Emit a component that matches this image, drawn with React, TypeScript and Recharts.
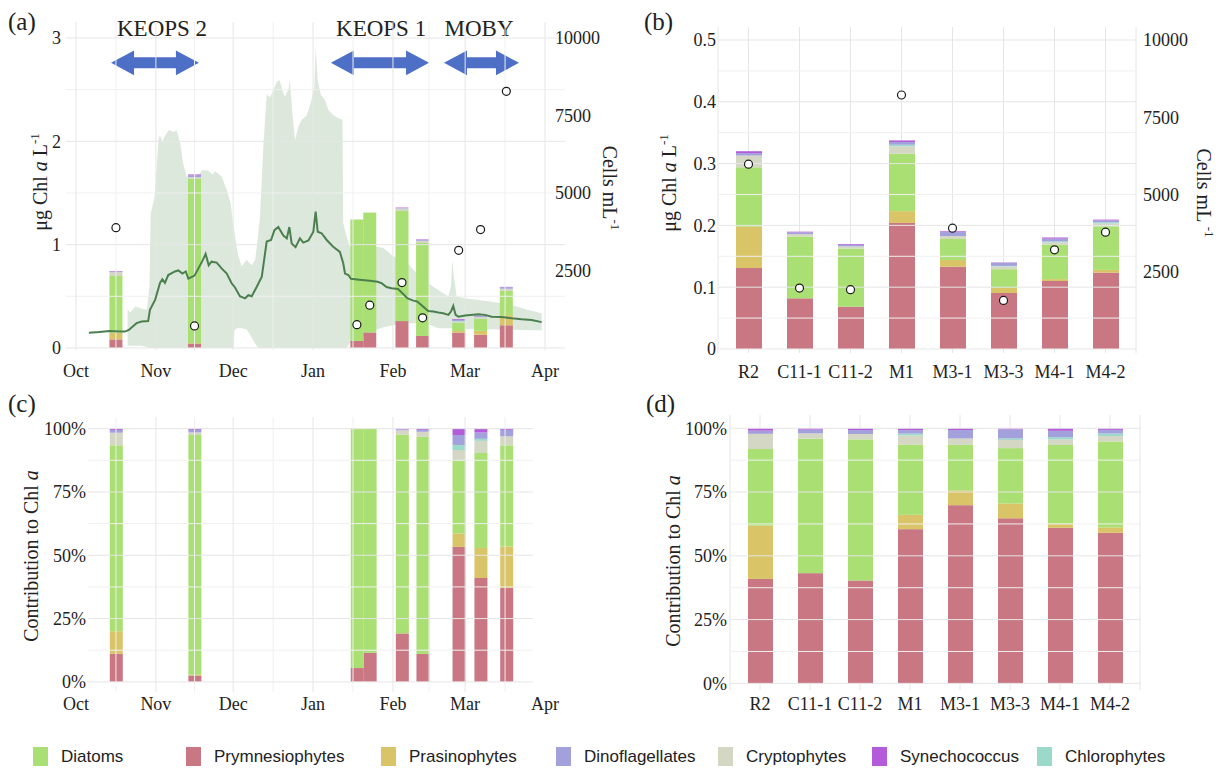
import React from "react";
import {
  ComposedChart,
  Bar,
  Area,
  Line,
  Scatter,
  XAxis,
  YAxis,
  ReferenceLine,
  ReferenceArea,
  CartesianGrid,
} from "recharts";

const SERIF = '"Liberation Serif", "Times New Roman", serif';
const SANS = '"Liberation Sans", Arial, sans-serif';
const INK = "#222";
const GRID = "#e6e6e6";
const GRID_MINOR = "#f0f0f0";

// pigment groups, bottom of the stack first
const GROUPS = [
  { key: "prym", name: "Prymnesiophytes", color: "#c97782" },
  { key: "pras", name: "Prasinophytes", color: "#d9c468" },
  { key: "diat", name: "Diatoms", color: "#a9df73" },
  { key: "crypt", name: "Cryptophytes", color: "#d4d7c3" },
  { key: "chlor", name: "Chlorophytes", color: "#9bd9cb" },
  { key: "dino", name: "Dinoflagellates", color: "#a3a1dc" },
  { key: "syn", name: "Synechococcus", color: "#b35bd9" },
];
const LEGEND_ORDER = ["diat", "prym", "pras", "dino", "crypt", "syn", "chlor"];

// time axis, days since 1 Oct
const monthDays = [0, 31, 61, 92, 123, 151, 182];
const monthNames = ["Oct", "Nov", "Dec", "Jan", "Feb", "Mar", "Apr"];
const minorDays = [15.5, 46, 76.5, 107.5, 137, 166.5];

// seasonal samples (panels a, c)
const sampleDays = [15.5, 46, 109, 114, 126.5, 134.5, 148.5, 157, 167];
const prymA = [0.083, 0.042, 0.068, 0.15, 0.26, 0.116, 0.149, 0.128, 0.219];
const prasA = [0.066, 0.005, 0, 0, 0, 0, 0.015, 0.037, 0.097];
const diatA = [0.547, 1.59, 1.175, 1.16, 1.066, 0.9, 0.081, 0.117, 0.236];
const cryptA = [0.037, 0.017, 0.002, 0, 0.024, 0.021, 0.011, 0.015, 0.021];
const chlorA = [0, 0, 0, 0, 0, 0, 0.0056, 0.0025, 0];
const dinoA = [0.008, 0.017, 0, 0, 0.005, 0.008, 0.011, 0.0078, 0.015];
const synA = [0.004, 0.008, 0, 0, 0.004, 0.005, 0.007, 0.0047, 0.003];
const cellsA = [3880, 710, 750, 1380, 2110, 970, 3150, 3820, 8280];

// satellite chl a, mean line
const satDays = [5, 9, 13, 17, 19, 20.5, 23.5, 25.5, 28, 28.7, 30.7, 32.6, 33.5, 34.5, 35.8, 38.4, 39.7, 41.3, 42.6, 43.6, 46, 49, 50.3, 51.5, 52.6, 54.6, 56.5, 58.5, 60.4, 61.7, 63.6, 65.6, 66.9, 68.2, 70.1, 72.1, 74, 75.7, 77, 78.5, 80.4, 81.8, 82.8, 83.7, 85.2, 86.9, 88.2, 90.2, 92.1, 93, 93.8, 95.3, 97.3, 99.8, 102.4, 103.7, 104.4, 105.7, 106.7, 110, 114, 117, 118.6, 120.5, 122.5, 125, 128.7, 130.9, 132.4, 136.7, 138.7, 140.6, 142.5, 144.5, 145.5, 146.4, 147.3, 148.4, 151, 156.1, 158.7, 161.3, 165, 169, 173, 176.8, 180.7];
const satMean = [0.148, 0.155, 0.165, 0.16, 0.158, 0.174, 0.24, 0.255, 0.26, 0.37, 0.465, 0.63, 0.665, 0.63, 0.706, 0.74, 0.75, 0.72, 0.74, 0.67, 0.7, 0.84, 0.91, 0.8, 0.835, 0.826, 0.77, 0.72, 0.626, 0.585, 0.5, 0.48, 0.51, 0.5, 0.59, 0.69, 1.03, 1.045, 1.14, 1.17, 1.09, 1.06, 1.17, 1.01, 0.975, 1.06, 1.02, 1.04, 1.125, 1.32, 1.125, 1.11, 1.045, 0.98, 0.93, 0.82, 0.72, 0.706, 0.67, 0.66, 0.65, 0.64, 0.626, 0.59, 0.577, 0.57, 0.48, 0.458, 0.45, 0.358, 0.352, 0.342, 0.335, 0.32, 0.352, 0.406, 0.32, 0.303, 0.313, 0.326, 0.32, 0.303, 0.3, 0.287, 0.277, 0.27, 0.25];

// satellite chl a, range band
const bandDays = [20, 21, 23, 25.5, 27.5, 28.5, 29, 30.5, 32, 32.5, 33.5, 34.5, 36, 38, 39, 40.5, 41.5, 43, 46, 49, 51, 53, 54, 56.5, 58.5, 60, 61, 61.5, 62.5, 63, 64.3, 66.2, 68.2, 69.5, 70.5, 71.4, 72.7, 74, 75.3, 76.6, 78, 79, 80, 81, 82.5, 83, 84, 85, 86.3, 87.6, 89.5, 91.2, 92.5, 93, 93.8, 95, 96.6, 98, 100, 102, 103.4, 103.7, 105, 106.3, 110, 114, 117.3, 119.3, 121.2, 123, 125, 128.7, 131, 136.7, 140.6, 144.5, 145.5, 146, 146.8, 147.7, 151, 156, 161, 169, 175.5, 180.7];
const bandHigh = [0.38, 0.34, 0.4, 0.38, 0.37, 0.6, 1.3, 1.46, 2.01, 2.06, 2.0, 2.05, 2.11, 2.09, 2.11, 1.98, 1.79, 1.66, 1.62, 1.72, 1.72, 1.68, 1.71, 1.66, 1.53, 1.4, 1.2, 1.12, 0.95, 0.89, 0.79, 0.85, 0.8, 0.85, 1.05, 1.27, 1.95, 2.45, 2.43, 2.5, 2.58, 2.59, 2.51, 2.43, 2.51, 2.59, 2.27, 2.01, 2.14, 2.21, 2.25, 2.38, 2.53, 2.92, 2.59, 2.45, 2.4, 2.3, 2.25, 2.22, 2.21, 1.21, 1.08, 0.98, 0.98, 0.98, 0.98, 0.965, 0.93, 0.885, 0.87, 0.82, 0.755, 0.626, 0.56, 0.497, 0.6, 0.85, 0.66, 0.497, 0.48, 0.465, 0.45, 0.416, 0.368, 0.335];
const bandLow = [0.02, 0.02, 0.02, 0.02, 0.01, 0, 0, 0, 0, 0, 0, 0, 0, 0, 0, 0, 0, 0, 0, 0, 0, 0, 0, 0, 0, 0, 0, 0.17, 0.19, 0.19, 0.19, 0.18, 0.1, 0.04, 0.01, 0, 0, 0, 0, 0, 0, 0, 0, 0, 0, 0, 0, 0, 0, 0, 0, 0, 0, 0, 0, 0, 0, 0, 0, 0, 0, 0, 0, 0.05, 0.1, 0.15, 0.18, 0.2, 0.21, 0.22, 0.23, 0.24, 0.24, 0.23, 0.19, 0.19, 0.19, 0.19, 0.2, 0.19, 0.18, 0.18, 0.18, 0.175, 0.17, 0.17, 0.165];

// cruises
const campaignNames = ["KEOPS 2", "KEOPS 1", "MOBY"];
const campaignStart = [13.6, 98.9, 142.8];
const campaignEnd = [47.7, 137.0, 171.9];
const campaignLabelDay = [33.4, 118.4, 156.4];

// stations (panels b, d)
const sites = ["R2", "C11-1", "C11-2", "M1", "M3-1", "M3-3", "M4-1", "M4-2"];
const prymB = [0.131, 0.082, 0.0685, 0.204, 0.133, 0.0906, 0.11, 0.1235];
const prasB = [0.067, 0, 0, 0.019, 0.011, 0.0081, 0.003, 0.0045];
const diatB = [0.096, 0.1, 0.094, 0.093, 0.034, 0.0304, 0.0556, 0.0705];
const cryptB = [0.019, 0.004, 0.0036, 0.012, 0.0048, 0.0045, 0.004, 0.0045];
const chlorB = [0, 0, 0, 0.0025, 0, 0.0008, 0.0015, 0.002];
const dinoB = [0.004, 0.0028, 0.0026, 0.0045, 0.0063, 0.005, 0.0045, 0.003];
const synB = [0.003, 0.001, 0.0012, 0.0025, 0.0013, 0.0006, 0.0018, 0.0013];
const cellsB = [5980, 1970, 1920, 8220, 3910, 1570, 3210, 3780];

const seasonRows = sampleDays.map((d, i) => ({
  day: d,
  prym: prymA[i],
  pras: prasA[i],
  diat: diatA[i],
  crypt: cryptA[i],
  chlor: chlorA[i],
  dino: dinoA[i],
  syn: synA[i],
  cells: cellsA[i],
}));
const satRows = satDays.map((d, i) => ({ day: d, mean: satMean[i] }));
const bandRows = bandDays.map((d, i) => ({ day: d, band: [bandLow[i], bandHigh[i]] }));
const siteRows = sites.map((s, i) => ({
  site: s,
  prym: prymB[i],
  pras: prasB[i],
  diat: diatB[i],
  crypt: cryptB[i],
  chlor: chlorB[i],
  dino: dinoB[i],
  syn: synB[i],
  cells: cellsB[i],
}));

// share of each group in the total (panels c, d)
const toShares = (rows: any[]) =>
  rows.map((r) => {
    const tot = GROUPS.reduce((s, g) => s + r[g.key], 0);
    const out: any = { ...r };
    GROUPS.forEach((g) => (out[g.key] = r[g.key] / tot));
    return out;
  });
const seasonShares = toShares(seasonRows);
const siteShares = toShares(siteRows);

const tickStyle = { fontFamily: SERIF, fontSize: 18, fill: INK };
const pct = (v: number) => `${Math.round(v * 100)}%`;

// bars drawn at a fixed width, centred on the slot recharts gives them
const fixedBar = (w: number) => (p: any) => {
  if (!p.height || p.height <= 0) return <g />;
  const cx = p.x + p.width / 2;
  return <rect x={cx - w / 2} y={p.y} width={w} height={p.height} fill={p.fill} />;
};

const dot = (p: any) =>
  p.cx == null ? <g /> : <circle cx={p.cx} cy={p.cy} r={4} fill="#fff" stroke="#1a1a1a" strokeWidth={1.2} />;

function Title({ x, y, rot, children }: { x: number; y: number; rot: number; children: React.ReactNode }) {
  return (
    <text
      x={x}
      y={y}
      transform={`rotate(${rot} ${x} ${y})`}
      textAnchor="middle"
      fontFamily={SERIF}
      fontSize={20}
      fill={INK}
    >
      {children}
    </text>
  );
}

const chlTitle = (x: number, y: number) => () => (
  <Title x={x} y={y} rot={-90}>
    <tspan>μg Chl </tspan>
    <tspan fontStyle="italic">a</tspan>
    <tspan> L</tspan>
    <tspan dy={-8} fontSize={13}>-1</tspan>
  </Title>
);
const cellsTitle = (x: number, y: number, gap: string) => () => (
  <Title x={x} y={y} rot={90}>
    <tspan>Cells mL{gap}</tspan>
    <tspan dy={-8} fontSize={13}>-1</tspan>
  </Title>
);
const pctTitle = (x: number, y: number) => () => (
  <Title x={x} y={y} rot={-90}>
    <tspan>Contribution to Chl </tspan>
    <tspan fontStyle="italic">a</tspan>
  </Title>
);

const arrowShape = (frac: number, name: string) => (p: any) => {
  const { x, y, width, height } = p;
  const cy = y + height / 2;
  const hh = height / 2;
  const sh = 5.5;
  const hl = 23;
  const pts = [
    [x, cy],
    [x + hl, cy - hh],
    [x + hl, cy - sh],
    [x + width - hl, cy - sh],
    [x + width - hl, cy - hh],
    [x + width, cy],
    [x + width - hl, cy + hh],
    [x + width - hl, cy + sh],
    [x + hl, cy + sh],
    [x + hl, cy + hh],
  ]
    .map((q) => q.join(","))
    .join(" ");
  return (
    <g>
      <polygon points={pts} fill="#4d70c6" />
      <text x={x + frac * width} y={cy - 27} textAnchor="middle" fontFamily={SERIF} fontSize={23} fill={INK}>
        {name}
      </text>
    </g>
  );
};

function stackBars(yAxisId: string | undefined, width: number, size: number) {
  return GROUPS.map((g) => (
    <Bar
      key={g.key}
      dataKey={g.key}
      name={g.name}
      stackId="s"
      yAxisId={yAxisId}
      fill={g.color}
      barSize={size}
      shape={fixedBar(width)}
      isAnimationActive={false}
    />
  ));
}

function PanelA() {
  return (
    <ComposedChart width={640} height={385} data={seasonRows} margin={{ top: 22, right: 0, bottom: 0, left: 0 }}>
      <XAxis
        dataKey="day"
        type="number"
        domain={[-3.88, 189.76]}
        allowDataOverflow
        ticks={monthDays}
        interval={0}
        tickFormatter={(v) => monthNames[monthDays.indexOf(v)]}
        height={35}
        tickSize={0}
        tickMargin={14}
        axisLine={false}
        tickLine={false}
        tick={tickStyle}
      />
      <YAxis
        yAxisId="chl"
        domain={[-0.02, 3.155]}
        allowDataOverflow
        ticks={[0, 1, 2, 3]}
        width={66}
        tickSize={0}
        tickMargin={5}
        axisLine={false}
        tickLine={false}
        tick={tickStyle}
        label={chlTitle(46.5, 182)}
      />
      <YAxis
        yAxisId="cells"
        orientation="right"
        domain={[-66.7, 10516.7]}
        allowDataOverflow
        ticks={[2500, 5000, 7500, 10000]}
        width={75}
        tickSize={0}
        tickMargin={-10}
        axisLine={false}
        tickLine={false}
        tick={tickStyle}
        label={cellsTitle(603, 188, "")}
      />
      {[0.5, 1.5, 2.5].map((v) => (
        <ReferenceLine key={"hm" + v} yAxisId="chl" y={v} stroke={GRID_MINOR} />
      ))}
      {minorDays.map((v) => (
        <ReferenceLine key={"vm" + v} yAxisId="chl" x={v} stroke={GRID_MINOR} />
      ))}
      {[0, 1, 2, 3].map((v) => (
        <ReferenceLine key={"h" + v} yAxisId="chl" y={v} stroke={GRID} />
      ))}
      {monthDays.map((v) => (
        <ReferenceLine key={"v" + v} yAxisId="chl" x={v} stroke={GRID} />
      ))}
      <Area
        data={bandRows}
        yAxisId="chl"
        dataKey="band"
        type="linear"
        stroke="none"
        fill="#4e8a4e"
        fillOpacity={0.2}
        isAnimationActive={false}
      />
      <Line
        data={satRows}
        yAxisId="chl"
        dataKey="mean"
        type="linear"
        stroke="#4b7f4e"
        strokeWidth={2}
        dot={false}
        activeDot={false}
        isAnimationActive={false}
      />
      {stackBars("chl", 13, 13)}
      <Scatter yAxisId="cells" dataKey="cells" shape={dot} isAnimationActive={false} />
      {campaignNames.map((n, i) => (
        <ReferenceArea
          key={n}
          yAxisId="chl"
          x1={campaignStart[i]}
          x2={campaignEnd[i]}
          y1={2.64}
          y2={2.88}
          shape={arrowShape((campaignLabelDay[i] - campaignStart[i]) / (campaignEnd[i] - campaignStart[i]), n)}
        />
      ))}
    </ComposedChart>
  );
}

function PanelB() {
  return (
    <ComposedChart width={624} height={385} data={siteRows} margin={{ top: 27, right: 0, bottom: 0, left: 0 }}>
      <CartesianGrid horizontal={false} stroke={GRID} />
      <XAxis
        dataKey="site"
        padding={{ left: 5, right: 5 }}
        height={32}
        interval={0}
        tickSize={0}
        tickMargin={12}
        axisLine={false}
        tickLine={false}
        tick={tickStyle}
      />
      <YAxis
        yAxisId="chl"
        domain={[-0.0065, 0.521]}
        allowDataOverflow
        ticks={[0, 0.1, 0.2, 0.3, 0.4, 0.5]}
        width={118}
        tickSize={0}
        tickMargin={2}
        axisLine={false}
        tickLine={false}
        tick={tickStyle}
        label={chlTitle(76, 183)}
      />
      <YAxis
        yAxisId="cells"
        orientation="right"
        domain={[-130, 10420]}
        allowDataOverflow
        ticks={[2500, 5000, 7500, 10000]}
        width={88}
        tickSize={0}
        tickMargin={7}
        axisLine={false}
        tickLine={false}
        tick={tickStyle}
        label={cellsTitle(597, 193, " ")}
      />
      {[0.05, 0.15, 0.25, 0.35, 0.45].map((v) => (
        <ReferenceLine key={"hm" + v} yAxisId="chl" y={v} stroke={GRID_MINOR} />
      ))}
      {[0, 0.1, 0.2, 0.3, 0.4, 0.5].map((v) => (
        <ReferenceLine key={"h" + v} yAxisId="chl" y={v} stroke={GRID} />
      ))}
      {stackBars("chl", 26, 26)}
      <Scatter yAxisId="cells" dataKey="cells" shape={dot} isAnimationActive={false} />
    </ComposedChart>
  );
}

function PanelC() {
  return (
    <ComposedChart width={600} height={335} data={seasonShares} margin={{ top: 32, right: 67, bottom: 0, left: 0 }}>
      <XAxis
        dataKey="day"
        type="number"
        domain={[4.66, 177.34]}
        allowDataOverflow
        ticks={monthDays}
        interval={0}
        tickFormatter={(v) => monthNames[monthDays.indexOf(v)]}
        height={28}
        tickSize={0}
        tickMargin={5}
        axisLine={false}
        tickLine={false}
        tick={tickStyle}
      />
      <YAxis
        domain={[-0.04, 1.046]}
        allowDataOverflow
        ticks={[0, 0.25, 0.5, 0.75, 1]}
        tickFormatter={pct}
        width={88}
        tickSize={0}
        tickMargin={2}
        axisLine={false}
        tickLine={false}
        tick={tickStyle}
        label={pctTitle(38, 171)}
      />
      {[0.125, 0.375, 0.625, 0.875].map((v) => (
        <ReferenceLine key={"hm" + v} y={v} stroke={GRID_MINOR} />
      ))}
      {minorDays.map((v) => (
        <ReferenceLine key={"vm" + v} x={v} stroke={GRID_MINOR} />
      ))}
      {[0, 0.25, 0.5, 0.75, 1].map((v) => (
        <ReferenceLine key={"h" + v} y={v} stroke={GRID} />
      ))}
      {monthDays.map((v) => (
        <ReferenceLine key={"v" + v} x={v} stroke={GRID} />
      ))}
      {stackBars(undefined, 13, 13)}
    </ComposedChart>
  );
}

function PanelD() {
  return (
    <ComposedChart width={624} height={335} data={siteShares} margin={{ top: 30, right: 84, bottom: 0, left: 0 }}>
      <CartesianGrid horizontal={false} stroke={GRID} />
      <XAxis
        dataKey="site"
        padding={{ left: 5, right: 5 }}
        height={30}
        interval={0}
        tickSize={0}
        tickMargin={7}
        axisLine={false}
        tickLine={false}
        tick={tickStyle}
      />
      <YAxis
        domain={[-0.026, 1.052]}
        allowDataOverflow
        ticks={[0, 0.25, 0.5, 0.75, 1]}
        tickFormatter={pct}
        width={130}
        tickSize={0}
        tickMargin={3}
        axisLine={false}
        tickLine={false}
        tick={tickStyle}
        label={pctTitle(80, 176)}
      />
      {[0.125, 0.375, 0.625, 0.875].map((v) => (
        <ReferenceLine key={"hm" + v} y={v} stroke={GRID_MINOR} />
      ))}
      {[0, 0.25, 0.5, 0.75, 1].map((v) => (
        <ReferenceLine key={"h" + v} y={v} stroke={GRID} />
      ))}
      {stackBars(undefined, 25, 25)}
    </ComposedChart>
  );
}

const panelTag = (t: string, left: number, top: number) => (
  <div
    key={t}
    style={{ position: "absolute", left, top, fontFamily: SERIF, fontSize: 25, lineHeight: "24px", color: INK }}
  >
    {t}
  </div>
);

const legendLeft = [33, 186, 381, 556, 718, 872, 1037];

export default function App() {
  return (
    <div
      style={{
        position: "absolute",
        left: 0,
        top: 0,
        width: 1224,
        height: 770,
        background: "#fff",
        overflow: "hidden",
      }}
    >
      <div style={{ position: "absolute", left: 600, top: 0 }}>
        <PanelB />
      </div>
      <div style={{ position: "absolute", left: 0, top: 0 }}>
        <PanelA />
      </div>
      <div style={{ position: "absolute", left: 0, top: 385 }}>
        <PanelC />
      </div>
      <div style={{ position: "absolute", left: 600, top: 385 }}>
        <PanelD />
      </div>
      {panelTag("(a)", 8, 10)}
      {panelTag("(b)", 644, 10)}
      {panelTag("(c)", 8, 392)}
      {panelTag("(d)", 646, 392)}
      {LEGEND_ORDER.map((k, i) => {
        const g = GROUPS.find((q) => q.key === k)!;
        return (
          <div key={k} style={{ position: "absolute", left: legendLeft[i], top: 747, height: 20 }}>
            <div style={{ position: "absolute", left: 0, top: 0, width: 15, height: 19, background: g.color }} />
            <div
              style={{
                position: "absolute",
                left: 28,
                top: 0,
                fontFamily: SANS,
                fontSize: 17,
                lineHeight: "20px",
                color: INK,
                whiteSpace: "nowrap",
              }}
            >
              {g.name}
            </div>
          </div>
        );
      })}
    </div>
  );
}
